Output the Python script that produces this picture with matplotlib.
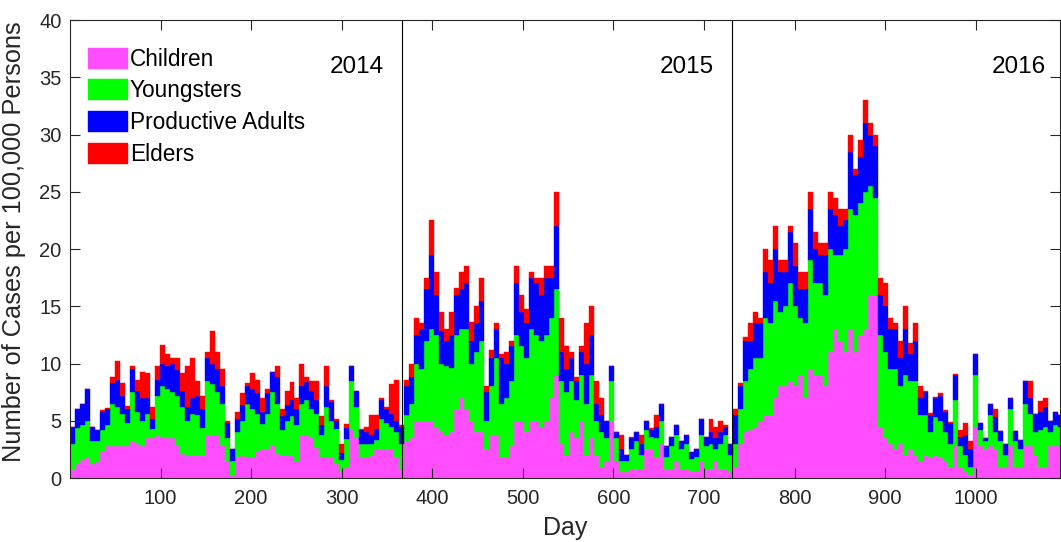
import numpy as np
import matplotlib
matplotlib.use("Agg")
import matplotlib.pyplot as plt

plt.rcParams['font.family'] = ['Liberation Sans', 'DejaVu Sans']

# stacked levels, one value per ~5.5-day period (199 periods over 2014-2016)
# each list is the top of that layer: children, +youngsters, +productive adults, +elders
children_top = [
    0.7, 1.2, 1.6, 1.8, 1.2, 1.4, 2.4, 2.8, 2.8, 2.8, 2.8, 2.8, 3.2, 3.0, 2.8, 3.5, 3.5, 3.8, 3.6, 3.5,
    3.5, 2.9, 2.1, 1.9, 2.0, 2.0, 2.0, 3.8, 3.8, 3.8, 2.9, 1.5, 0.3, 1.8, 1.9, 1.8, 1.8, 2.4, 2.5, 2.5,
    2.9, 2.1, 2.0, 2.0, 1.9, 1.5, 3.8, 3.8, 3.5, 2.6, 1.8, 1.8, 1.8, 1.2, 0.5, 1.0, 4.2, 3.5, 1.8, 1.8,
    2.0, 2.5, 2.5, 2.5, 2.5, 1.8,
    0.8, 3.2, 3.5, 5.0, 5.0, 5.0, 5.0, 4.5, 4.0, 3.8, 4.0, 6.0, 7.0, 6.0, 5.0, 4.0, 4.0, 2.5, 3.8, 3.8,
    1.8, 1.8, 2.8, 5.0, 5.0, 4.0, 5.0, 5.0, 4.5, 5.0, 7.0, 9.0, 3.0, 2.0, 4.0, 3.5, 5.0, 2.0, 3.5, 2.0,
    1.0, 1.5, 5.0, 1.5, 0.5, 0.5, 0.8, 0.8, 0.8, 2.5, 2.5, 1.8, 3.0, 0.8, 0.8, 1.5, 0.8, 0.8, 0.6, 0.6,
    1.5, 0.8, 0.8, 1.5, 0.8, 0.8,
    0.5, 1.0, 3.0, 4.0, 4.2, 4.5, 5.0, 5.5, 5.5, 7.0, 8.0, 8.0, 8.5, 8.0, 9.0,
    7.0, 9.5, 9.0, 9.0, 8.0, 11.0, 13.0, 12.0, 11.0, 13.0, 11.0, 12.5, 13.0, 16.0, 16.0,
    4.5, 3.5, 3.0, 2.5, 3.0, 2.0, 2.5, 2.0, 1.5, 2.0, 1.8, 2.0, 1.8, 1.5, 1.0, 2.8, 1.0,
    0.5, 0.3, 4.5, 2.8, 2.5, 2.8, 2.5, 1.0, 1.0, 2.8, 1.0, 1.0, 2.8, 2.8, 2.0, 1.0, 1.0, 2.8, 2.8, 2.8,
]
youngsters_top = [
    3.0, 4.4, 4.6, 5.0, 3.2, 3.2, 4.2, 4.6, 6.5, 6.2, 5.6, 4.8, 7.5, 5.8, 5.0, 5.6, 4.3, 7.2, 8.0, 7.8,
    7.5, 7.2, 6.2, 5.0, 5.6, 5.5, 4.4, 8.5, 8.2, 7.5, 6.5, 3.5, 1.5, 4.0, 5.0, 6.5, 6.0, 5.6, 4.7, 5.6,
    7.5, 6.5, 4.2, 5.0, 5.4, 4.6, 6.5, 6.8, 6.0, 5.6, 3.8, 6.2, 5.0, 4.3, 1.6, 3.4, 8.5, 6.2, 3.0, 3.0,
    3.0, 3.3, 5.2, 4.8, 4.5, 4.0,
    3.0, 5.5, 6.5, 10.0, 9.5, 12.0, 13.0, 12.5, 10.0, 9.8, 9.6, 12.5, 13.0, 13.0, 10.0, 11.0, 12.0, 5.0, 8.0, 10.5,
    6.5, 7.0, 8.5, 12.5, 11.5, 10.5, 13.0, 12.5, 12.0, 12.5, 14.0, 16.5, 8.5, 7.5, 8.5, 6.8, 9.0, 6.5, 9.0, 5.0,
    4.0, 3.5, 8.5, 3.5, 1.5, 1.5, 2.5, 3.2, 2.0, 4.2, 3.6, 3.5, 5.0, 1.8, 2.8, 3.8, 2.5, 3.0, 1.7, 1.8,
    3.8, 2.8, 3.0, 2.5, 3.0, 3.8,
    2.0, 3.0, 6.0, 8.5, 9.5, 10.5, 10.5, 14.0, 13.5, 15.5, 14.5, 15.0, 17.0, 15.0, 14.0,
    13.5, 19.0, 17.0, 17.0, 16.0, 20.0, 19.5, 19.5, 20.0, 23.5, 23.0, 24.0, 25.0, 25.5, 24.5,
    12.5, 11.0, 9.5, 9.5, 8.0, 9.0, 8.5, 8.5, 5.5, 5.5, 4.0, 5.3, 5.0, 4.0, 3.0, 6.8, 2.8,
    2.0, 1.0, 9.0, 4.2, 3.2, 5.5, 4.0, 3.2, 2.0, 6.0, 3.2, 2.5, 6.5, 5.6, 4.0, 4.2, 4.5, 4.0, 4.6, 4.5,
]
adults_top = [
    4.5, 6.0, 6.5, 7.8, 4.5, 4.2, 5.8, 6.0, 8.3, 8.6, 7.2, 6.0, 9.5, 7.6, 7.0, 7.0, 5.2, 8.6, 10.0, 9.8,
    10.0, 9.4, 7.6, 6.2, 7.0, 7.2, 6.0, 10.5, 10.0, 9.5, 8.0, 4.8, 2.5, 5.2, 6.4, 8.0, 7.8, 7.4, 5.8, 7.4,
    9.3, 8.8, 5.4, 6.4, 6.8, 6.0, 8.0, 8.4, 7.6, 6.8, 4.6, 8.0, 6.6, 5.0, 2.2, 4.4, 9.8, 7.6, 4.2, 4.0,
    3.8, 4.3, 6.8, 6.0, 5.6, 5.0,
    4.5, 8.0, 8.8, 12.5, 13.0, 16.5, 19.5, 16.0, 12.8, 12.0, 12.5, 16.0, 16.5, 17.0, 12.0, 13.5, 15.5, 7.5, 10.5, 13.0,
    10.5, 10.0, 11.5, 17.0, 14.5, 13.5, 17.5, 17.0, 16.0, 17.5, 17.5, 22.0, 11.0, 9.5, 10.5, 8.5, 11.0, 10.0, 12.5, 6.5,
    5.5, 5.0, 9.8, 4.0, 2.5, 2.0, 3.5, 4.0, 3.0, 5.0, 4.2, 4.5, 6.5, 2.8, 3.6, 4.6, 3.2, 3.8, 2.3, 2.5,
    5.2, 3.6, 4.0, 3.5, 4.0, 4.5,
    3.0, 5.5, 8.0, 12.0, 12.0, 13.5, 13.5, 18.0, 17.0, 20.0, 18.0, 18.0, 21.5, 18.5, 16.5,
    16.5, 23.5, 20.0, 19.5, 19.5, 23.5, 23.0, 22.0, 22.5, 28.5, 26.5, 28.0, 31.0, 30.0, 29.0,
    16.0, 15.0, 13.0, 13.0, 10.5, 13.0, 10.8, 12.0, 7.0, 7.5, 5.5, 7.0, 7.2, 5.8, 4.8, 9.0, 3.6,
    3.8, 2.5, 10.8, 4.8, 3.5, 6.5, 5.3, 4.1, 3.0, 7.0, 4.1, 3.3, 8.5, 7.0, 5.6, 5.8, 6.2, 5.0, 5.8, 5.5,
]
elders_top = [
    4.5, 6.0, 6.5, 7.8, 4.5, 4.2, 5.9, 6.1, 8.8, 10.2, 8.3, 6.3, 9.8, 8.6, 9.3, 9.2, 6.2, 9.8, 11.6, 10.8,
    10.5, 10.5, 9.2, 9.8, 10.5, 8.5, 7.2, 11.0, 12.8, 11.0, 9.5, 5.0, 2.5, 5.8, 7.4, 8.3, 9.2, 8.6, 7.0, 7.8,
    9.3, 9.8, 6.0, 7.6, 8.4, 7.0, 10.0, 8.8, 8.5, 8.5, 5.4, 9.8, 6.8, 5.2, 3.0, 4.7, 9.8, 7.6, 4.3, 4.5,
    5.5, 5.5, 7.0, 6.2, 8.2, 8.6,
    4.6, 8.6, 10.0, 14.0, 13.5, 17.5, 22.5, 18.0, 14.5, 13.0, 14.5, 16.6, 18.0, 18.5, 13.6, 15.0, 17.5, 8.0, 11.2, 13.5,
    10.8, 11.0, 12.0, 18.5, 16.0, 14.8, 18.0, 17.5, 17.5, 18.5, 18.5, 25.0, 14.0, 11.5, 11.0, 8.8, 11.5, 13.5, 15.0, 8.5,
    7.0, 5.0, 9.8, 4.0, 3.8, 2.0, 3.6, 4.0, 3.8, 5.0, 4.4, 5.5, 6.5, 2.8, 3.6, 4.6, 3.2, 3.8, 2.3, 2.5,
    5.2, 3.6, 5.2, 4.5, 5.0, 4.6,
    3.0, 6.0, 8.3, 12.3, 13.5, 14.5, 14.0, 20.0, 19.0, 22.0, 19.0, 19.0, 22.0, 20.5, 18.0,
    18.0, 25.0, 21.5, 20.5, 20.5, 25.0, 24.5, 23.5, 23.5, 30.0, 27.0, 29.5, 33.0, 31.0, 30.0,
    17.5, 17.0, 14.0, 13.5, 12.0, 15.0, 11.8, 13.5, 8.0, 7.6, 5.7, 7.1, 7.4, 5.9, 4.9, 9.1, 4.2,
    4.8, 3.2, 10.8, 4.8, 3.5, 6.5, 6.0, 4.1, 3.0, 7.0, 4.1, 3.3, 8.5, 8.5, 5.6, 6.7, 7.0, 5.0, 5.8, 5.5,
]

labels = ['Children', 'Youngsters', 'Productive Adults', 'Elders']
colors = ['#ff4dff', '#00ff00', '#0000ff', '#ff0000']
years = ['2014', '2015', '2016']
year_end_day = [365, 730, 1096]

n = len(children_top)
period = 1096 / n
start = np.arange(n) * period

fig = plt.figure(figsize=(10.61, 5.42), dpi=100)
ax = fig.add_axes([0.066, 0.118, 0.933, 0.845])

bottom = np.zeros(n)
for top, c, lab in zip([children_top, youngsters_top, adults_top, elders_top], colors, labels):
    top = np.array(top)
    ax.bar(start, top - bottom, width=period, bottom=bottom, align='edge',
           color=c, edgecolor=c, linewidth=0.3, label=lab)
    bottom = top

# year separators and labels
for d in year_end_day[:2]:
    ax.axvline(d + 1, color='black', lw=0.8)
for y, d in zip(years, year_end_day):
    ax.text(d - 19, 35.9, y, ha='right', va='center', fontsize=17.5)

ax.set_xlim(0, 1093)
ax.set_ylim(0, 40)
ax.set_xticks(range(100, 1001, 100))
ax.set_yticks(range(0, 41, 5))
ax.tick_params(direction='in', length=7, width=0.8, labelsize=14.5, colors='#262626',
               top=True, right=True)
ax.tick_params(axis='x', pad=8)
ax.tick_params(axis='y', pad=6)
for s in ax.spines.values():
    s.set_color('#262626')
    s.set_linewidth(0.8)
ax.set_xlabel('Day', fontsize=18, color='#262626', labelpad=6)
ax.set_ylabel('Number of Cases per 100,000 Persons', fontsize=18.3, color='#262626')
ax.yaxis.set_label_coords(-0.044, 0.517)

ax.legend(loc='upper left', bbox_to_anchor=(0.018, 0.94), frameon=False, fontsize=16.3,
          handlelength=1.77, handleheight=1.06, handletextpad=0.09, labelspacing=0.37,
          borderpad=0, borderaxespad=0)

fig.savefig('out.png', dpi=100)
